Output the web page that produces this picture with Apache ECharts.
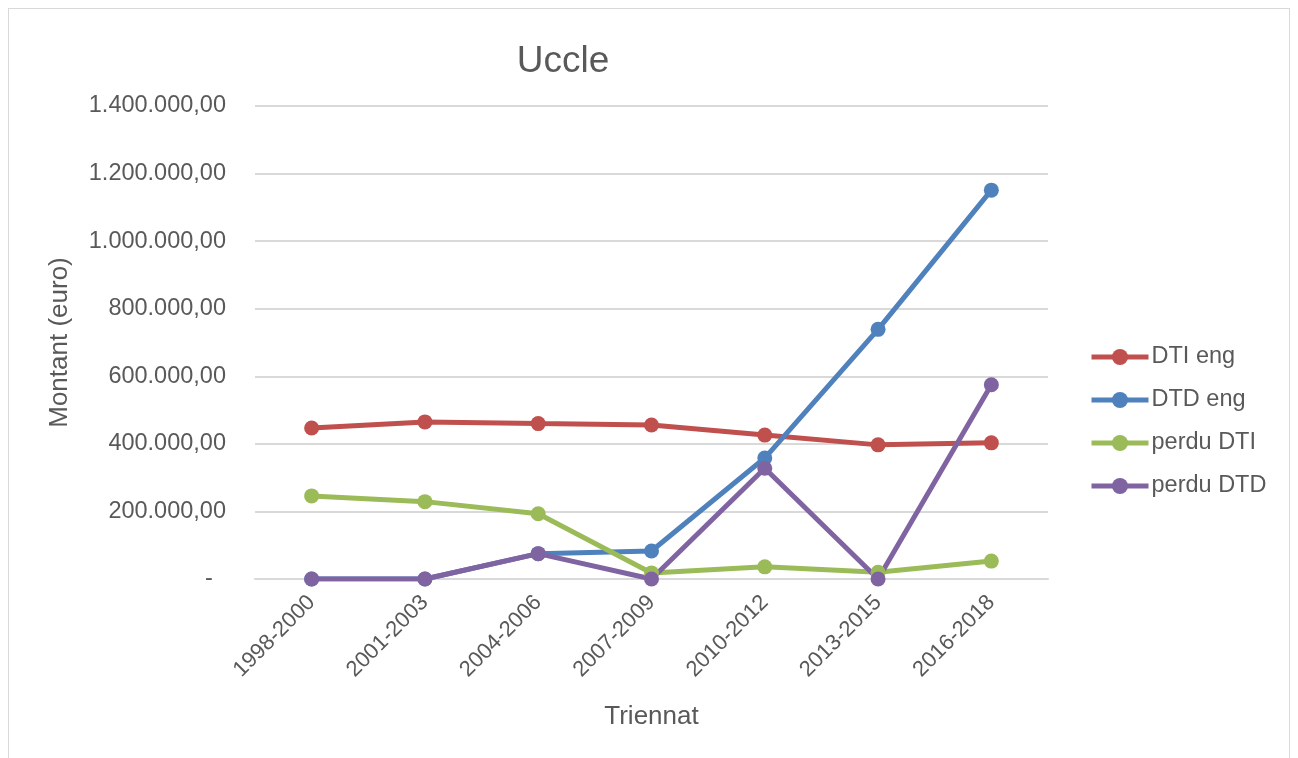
<!DOCTYPE html>
<html>
<head>
<meta charset="utf-8">
<script src="https://cdn.jsdelivr.net/npm/echarts@6/dist/echarts.min.js"></script>
<style>
html,body{margin:0;padding:0;background:#fff;}
#c{position:absolute;left:8px;top:8px;width:1282px;height:760px;border:1px solid #d9d9d9;box-sizing:border-box;}
</style>
</head>
<body>
<div id="c"></div>
<script>
const categories = ['1998-2000','2001-2003','2004-2006','2007-2009','2010-2012','2013-2015','2016-2018'];
const dtiEng = [447000, 465000, 460000, 456000, 426000, 397000, 403000];
const dtdEng = [0, 0, 75000, 83000, 358000, 739000, 1151000];
const perduDti = [246000, 229000, 193000, 18000, 36000, 20000, 53000];
const perduDtd = [0, 0, 75000, 0, 328000, 0, 575000];
const seriesNames = ['DTI eng','DTD eng','perdu DTI','perdu DTD'];
const colors = ['#C0504D','#4F81BD','#9BBB59','#8064A2'];

function fmt(v){
  if (v === 0) return '-  ';
  const s = Math.round(v).toString().replace(/\B(?=(\d{3})+(?!\d))/g, '.');
  return s + ',00';
}
const FONT = 'Liberation Sans, Arial, sans-serif';
const TXT = '#595959';
const chart = echarts.init(document.getElementById('c'), null, {renderer:'canvas'});
const dataSets = [dtiEng, dtdEng, perduDti, perduDtd];
chart.setOption({
  animation:false,
  color: colors,
  textStyle:{fontFamily:FONT},
  title:{text:'Uccle', left:549, top:29, textAlign:'center',
    textStyle:{fontFamily:FONT, fontSize:37, fontWeight:'normal', color:TXT}},
  grid:{left:246, right:241, top:97, bottom:188, containLabel:false},
  legend:{orient:'vertical', left:1075, top:331, itemGap:19, itemWidth:57, itemHeight:20,
    data:seriesNames,
    lineStyle:{width:5},
    textStyle:{fontFamily:FONT, fontSize:23.5, color:TXT, padding:[0,0,0,-2]}},
  xAxis:{type:'category', data:categories, boundaryGap:true,
    name:'Triennat', nameLocation:'middle', nameGap:125,
    nameTextStyle:{fontFamily:FONT, fontSize:26, color:TXT},
    axisLine:{lineStyle:{color:'#d9d9d9', width:2}},
    axisTick:{show:false},
    axisLabel:{rotate:45, fontFamily:FONT, fontSize:22, color:TXT, margin:20, interval:0}},
  yAxis:{type:'value', min:0, max:1400000, interval:200000,
    name:'Montant (euro)', nameLocation:'middle', nameGap:182,
    nameTextStyle:{fontFamily:FONT, fontSize:26, color:TXT},
    axisLine:{show:false}, axisTick:{show:false},
    splitLine:{lineStyle:{color:'#d9d9d9', width:2}},
    axisLabel:{formatter:fmt, fontFamily:FONT, fontSize:23.5, color:TXT, margin:29}},
  series: seriesNames.map((n,i)=>({
    name:n, type:'line', data:dataSets[i], symbol:'circle', symbolSize:15,
    lineStyle:{width:5, color:colors[i]}, itemStyle:{color:colors[i]}
  }))
});
</script>
</body>
</html>
